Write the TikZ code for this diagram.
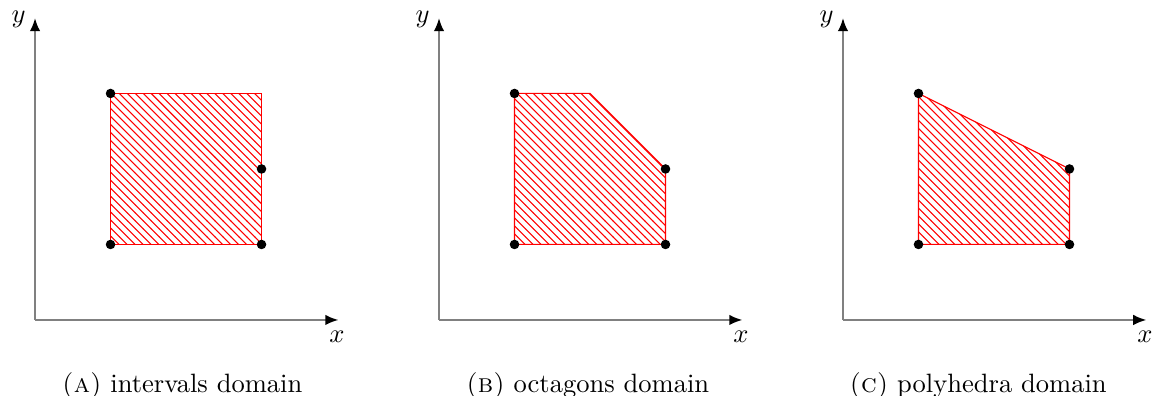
\documentclass[tikz,border=0pt]{standalone}
\usetikzlibrary{patterns,arrows.meta}
\begin{document}
\begin{tikzpicture}[x=1cm,y=1cm,
  axis/.style={draw=gray, line width=0.8pt, -{Latex[black,length=5pt,width=4pt]}},
  region/.style={pattern=north west lines, pattern color=red},
  vtx/.style={circle, fill=black, inner sep=0pt, minimum size=3.6pt},
  captxt/.style={font=\normalsize}]
\useasboundingbox (-0.464,-1.007) rectangle (14.848,4.238);
% panel A
\begin{scope}[xshift=0cm]
  \coordinate (Ao) at (0,0); \coordinate (Ax) at (4.02,0); \coordinate (Ay) at (0,4.0);
  \draw[axis] (Ao) -- (Ax);
  \draw[axis] (Ao) -- (Ay);
  \node[anchor=east] (Aylab) at (0.0,3.98) {$y$};
  \node[anchor=north] (Axlab) at (4.0,-0.02) {$x$};
  \coordinate (A1) at (1,1);
  \coordinate (A2) at (1,3);
  \coordinate (A3) at (3,1);
  \coordinate (A4) at (3,2);
  \coordinate (A5) at (3,3);
  \fill[region] (A1) -- (A2) -- (A5) -- (A3) -- cycle;
  \draw[red] (A1) -- (A2) -- (A5) -- (A3) -- cycle;
  \node[vtx] (Ad1) at (A1) {}; \node[vtx] (Ad2) at (A2) {}; \node[vtx] (Ad3) at (A3) {}; \node[vtx] (Ad4) at (A4) {};
  \node[captxt] (Acap) at (1.95,-0.87) {\textsc{(a)} intervals domain};
\end{scope}
% panel B
\begin{scope}[xshift=5.351cm]
  \coordinate (Bo) at (0,0); \coordinate (Bx) at (4.02,0); \coordinate (By) at (0,4.0);
  \draw[axis] (Bo) -- (Bx);
  \draw[axis] (Bo) -- (By);
  \node[anchor=east] (Bylab) at (0.0,3.98) {$y$};
  \node[anchor=north] (Bxlab) at (4.0,-0.02) {$x$};
  \coordinate (B1) at (1,1);
  \coordinate (B2) at (1,3);
  \coordinate (B3) at (3,2);
  \coordinate (B4) at (3,1);
  \coordinate (B5) at (2,3);
  \fill[region] (B1) -- (B2) -- (B5) -- (B3) -- (B4) -- cycle;
  \draw[red] (B1) -- (B2) -- (B5) -- (B3) -- (B4) -- cycle;
  \node[vtx] (Bd1) at (B1) {}; \node[vtx] (Bd2) at (B2) {}; \node[vtx] (Bd3) at (B3) {}; \node[vtx] (Bd4) at (B4) {};
  \node[captxt] (Bcap) at (1.97,-0.87) {\textsc{(b)} octagons domain};
\end{scope}
% panel C
\begin{scope}[xshift=10.702cm]
  \coordinate (Co) at (0,0); \coordinate (Cx) at (4.02,0); \coordinate (Cy) at (0,4.0);
  \draw[axis] (Co) -- (Cx);
  \draw[axis] (Co) -- (Cy);
  \node[anchor=east] (Cylab) at (0.0,3.98) {$y$};
  \node[anchor=north] (Cxlab) at (4.0,-0.02) {$x$};
  \coordinate (C1) at (1,1);
  \coordinate (C2) at (1,3);
  \coordinate (C3) at (3,2);
  \coordinate (C4) at (3,1);
  \fill[region] (C1) -- (C2) -- (C3) -- (C4) -- cycle;
  \draw[red] (C1) -- (C2) -- (C3) -- (C4) -- cycle;
  \node[vtx] (Cd1) at (C1) {}; \node[vtx] (Cd2) at (C2) {}; \node[vtx] (Cd3) at (C3) {}; \node[vtx] (Cd4) at (C4) {};
  \node[captxt] (Ccap) at (1.79,-0.87) {\textsc{(c)} polyhedra domain};
\end{scope}
\end{tikzpicture}
\end{document}
